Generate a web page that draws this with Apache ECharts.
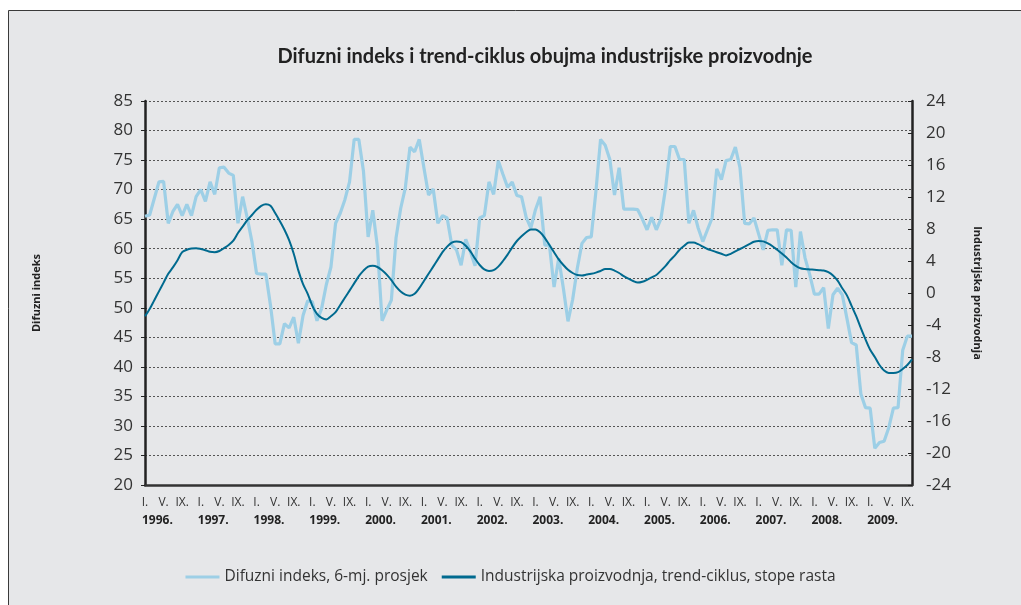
<!DOCTYPE html>
<html>
<head>
<meta charset="utf-8">
<title>Difuzni indeks i trend-ciklus</title>
<script src="https://cdn.jsdelivr.net/npm/echarts@6/dist/echarts.min.js"></script>
<style>
    html, body { margin: 0; padding: 0; background: #ffffff; }
    #chart { width: 1021px; height: 605px; }
</style>
</head>
<body>
<div id="chart"></div>
<script>
'use strict';

// years shown on the axis, the series run from I. 1996 to X. 2009
var years = [1996, 1997, 1998, 1999, 2000, 2001, 2002, 2003, 2004, 2005, 2006, 2007, 2008, 2009];
var monthLabels = { 1: 'I.', 5: 'V.', 9: 'IX.' };

// difuzni indeks, 6-mj. prosjek (left axis)
var difuzniIndeks = [
    65.5, 65.7, 68.5, 71.3, 71.4, 64.3, 66.3, 67.5, 65.6, 67.5, 65.6, 68.8,
    70.0, 68.0, 71.3, 69.2, 73.7, 73.8, 72.8, 72.4, 64.3, 68.8, 65.2, 61.2,
    55.8, 55.7, 55.7, 50.4, 43.9, 43.9, 47.3, 46.6, 48.4, 44.0, 48.7, 51.2,
    51.0, 47.8, 49.9, 53.9, 56.9, 64.3, 66.0, 68.3, 71.3, 78.5, 78.5, 73.1,
    62.0, 66.5, 60.3, 47.8, 49.6, 51.3, 61.8, 66.8, 70.3, 77.2, 76.4, 78.5,
    73.7, 69.1, 70.1, 64.3, 65.6, 65.2, 60.6, 59.8, 57.2, 61.6, 59.5, 57.1,
    65.2, 65.6, 71.3, 69.2, 74.9, 72.6, 70.4, 71.3, 69.0, 68.8, 65.3, 63.5,
    66.6, 68.8, 60.6, 60.6, 53.5, 58.4, 53.3, 47.7, 51.4, 56.7, 60.9, 61.9,
    62.0, 69.7, 78.5, 77.5, 75.1, 69.1, 73.7, 66.7, 66.7, 66.7, 66.6, 65.0,
    63.2, 65.3, 63.2, 65.1, 70.3, 77.3, 77.3, 75.1, 75.1, 64.3, 66.5, 63.5,
    61.2, 63.2, 65.2, 73.5, 71.7, 74.9, 75.1, 77.2, 73.7, 64.3, 64.2, 65.2,
    62.5, 59.8, 63.1, 63.2, 63.2, 57.2, 63.2, 63.1, 53.5, 62.9, 58.4, 55.6,
    52.3, 52.3, 53.4, 46.5, 52.2, 53.3, 52.2, 48.2, 44.1, 43.7, 35.4, 33.1,
    33.0, 26.2, 27.2, 27.4, 29.7, 33.0, 33.1, 42.8, 45.2, 45.2
];

// industrijska proizvodnja, trend-ciklus, stope rasta (right axis)
var industrijskaProizvodnja = [
    -2.9, -2.0, -0.9, 0.2, 1.3, 2.4, 3.2, 4.1, 5.1, 5.4, 5.55, 5.6,
    5.5, 5.35, 5.15, 5.1, 5.25, 5.6, 6.0, 6.55, 7.5, 8.3, 9.1, 9.75,
    10.4, 10.9, 11.1, 10.9, 10.0, 9.0, 7.9, 6.6, 4.9, 2.8, 1.1, -0.1,
    -1.6, -2.6, -3.1, -3.3, -2.9, -2.4, -1.5, -0.6, 0.3, 1.2, 2.1, 2.8,
    3.3, 3.4, 3.25, 2.85, 2.3, 1.6, 0.8, 0.2, -0.2, -0.33, -0.1, 0.6,
    1.5, 2.4, 3.3, 4.2, 5.1, 5.8, 6.3, 6.45, 6.35, 5.9, 5.2, 4.3,
    3.5, 2.95, 2.75, 2.85, 3.3, 4.0, 4.8, 5.7, 6.5, 7.1, 7.6, 7.95,
    7.95, 7.6, 6.9, 6.0, 5.1, 4.2, 3.5, 2.9, 2.5, 2.25, 2.2, 2.3,
    2.4, 2.55, 2.75, 3.0, 3.0, 2.8, 2.5, 2.1, 1.8, 1.5, 1.3, 1.4,
    1.65, 1.95, 2.25, 2.8, 3.4, 4.1, 4.7, 5.4, 5.9, 6.3, 6.3, 6.1,
    5.8, 5.5, 5.3, 5.1, 4.9, 4.7, 4.9, 5.2, 5.5, 5.8, 6.1, 6.4,
    6.5, 6.45, 6.2, 5.85, 5.4, 4.95, 4.45, 3.85, 3.4, 3.1, 3.0, 2.95,
    2.9, 2.85, 2.8, 2.6, 2.2, 1.55, 0.6, -0.3, -1.6, -2.9, -4.4, -5.8,
    -7.1, -8.0, -9.0, -9.7, -10.0, -10.0, -9.9, -9.5, -9.0, -8.3
];

var labelFont = '"Open Sans", "DejaVu Sans", sans-serif';
var titleFont = 'Lato, "Open Sans", sans-serif';

/**
 * month categories, 'yyyy-m', as long as the series
 */
function getCategories(count) {
    var list = [];
    years.forEach(function (year) {
        for (var m = 1; m <= 12; m++) {
            if (list.length < count) { list.push(year + '-' + m); }
        }
    });
    return list;
}

function monthOf(value) {
    return parseInt(value.split('-')[1], 10);
}

var categories = getCategories(difuzniIndeks.length);

var chart = echarts.init(document.getElementById('chart'), null, { renderer: 'canvas' });

var options = {
    animation: false,
    backgroundColor: '#ffffff',
    graphic: [{
        type: 'rect',
        z: -10,
        shape: { x: 8.5, y: 10.5, width: 1040, height: 620 },
        style: { fill: '#e6e7e9', stroke: '#3a3a3a', lineWidth: 1 }
    }],
    title: {
        text: 'Difuzni indeks i trend-ciklus obujma industrijske proizvodnje',
        left: 540,
        top: 42,
        textAlign: 'center',
        textStyle: { fontFamily: titleFont, fontSize: 20, fontWeight: 'bold', color: '#222' }
    },
    legend: {
        bottom: 15,
        left: 'center',
        itemWidth: 34,
        itemHeight: 3,
        itemGap: 14,
        icon: 'rect',
        textStyle: { fontFamily: labelFont, fontSize: 15.5, color: '#333' },
        data: ['Difuzni indeks, 6-mj. prosjek', 'Industrijska proizvodnja, trend-ciklus, stope rasta']
    },
    grid: { left: 145, right: 109, top: 101, bottom: 120 },
    xAxis: [{
        type: 'category',
        data: categories,
        boundaryGap: false,
        axisLine: { onZero: false, lineStyle: { color: '#333', width: 2.5 } },
        axisTick: { show: false },
        axisLabel: {
            interval: function (index, value) { return !!monthLabels[monthOf(value)]; },
            formatter: function (value) { return monthLabels[monthOf(value)] || ''; },
            margin: 12,
            fontFamily: labelFont,
            fontSize: 12,
            color: '#333'
        }
    }, {
        // year row under the month labels
        type: 'category',
        data: categories,
        position: 'bottom',
        offset: 22,
        boundaryGap: false,
        axisLine: { show: false, onZero: false },
        axisTick: { show: false },
        axisLabel: {
            interval: function (index, value) { return monthOf(value) === 1; },
            formatter: function (value) { return value.split('-')[0] + '.'; },
            align: 'left',
            padding: [0, 0, 0, -3],
            margin: 8,
            fontFamily: labelFont,
            fontSize: 12,
            fontWeight: 'bold',
            color: '#222'
        }
    }],
    yAxis: [{
        type: 'value',
        min: 20,
        max: 85,
        interval: 5,
        name: 'Difuzni indeks',
        nameLocation: 'middle',
        nameGap: 103,
        nameTextStyle: { fontFamily: labelFont, fontSize: 11, fontWeight: 'bold', color: '#222' },
        axisLine: { show: true, lineStyle: { color: '#222', width: 2.5 } },
        axisTick: { show: true, length: 4, lineStyle: { color: '#222' } },
        axisLabel: { margin: 12, fontFamily: labelFont, fontSize: 17, color: '#333' },
        splitLine: { lineStyle: { color: '#555', type: [2, 2], width: 1 } }
    }, {
        type: 'value',
        min: -24,
        max: 24,
        interval: 4,
        position: 'right',
        name: 'Industrijska proizvodnja',
        nameLocation: 'middle',
        nameRotate: -90,
        nameGap: 60,
        nameTextStyle: { fontFamily: labelFont, fontSize: 11, fontWeight: 'bold', color: '#222' },
        axisLine: { show: true, lineStyle: { color: '#222', width: 2.5 } },
        axisTick: { show: true, inside: true, length: 4, lineStyle: { color: '#222' } },
        axisLabel: { margin: 14, fontFamily: labelFont, fontSize: 17, color: '#333' },
        splitLine: { show: false }
    }],
    series: [{
        name: 'Difuzni indeks, 6-mj. prosjek',
        type: 'line',
        yAxisIndex: 0,
        data: difuzniIndeks,
        showSymbol: false,
        color: '#9dcfe6',
        lineStyle: { color: '#9dcfe6', width: 3.2 },
        z: 2
    }, {
        name: 'Industrijska proizvodnja, trend-ciklus, stope rasta',
        type: 'line',
        yAxisIndex: 1,
        data: industrijskaProizvodnja,
        showSymbol: false,
        smooth: 0.3,
        color: '#006a8f',
        lineStyle: { color: '#006a8f', width: 2 },
        z: 3
    }]
};

chart.setOption(options);
</script>
</body>
</html>
